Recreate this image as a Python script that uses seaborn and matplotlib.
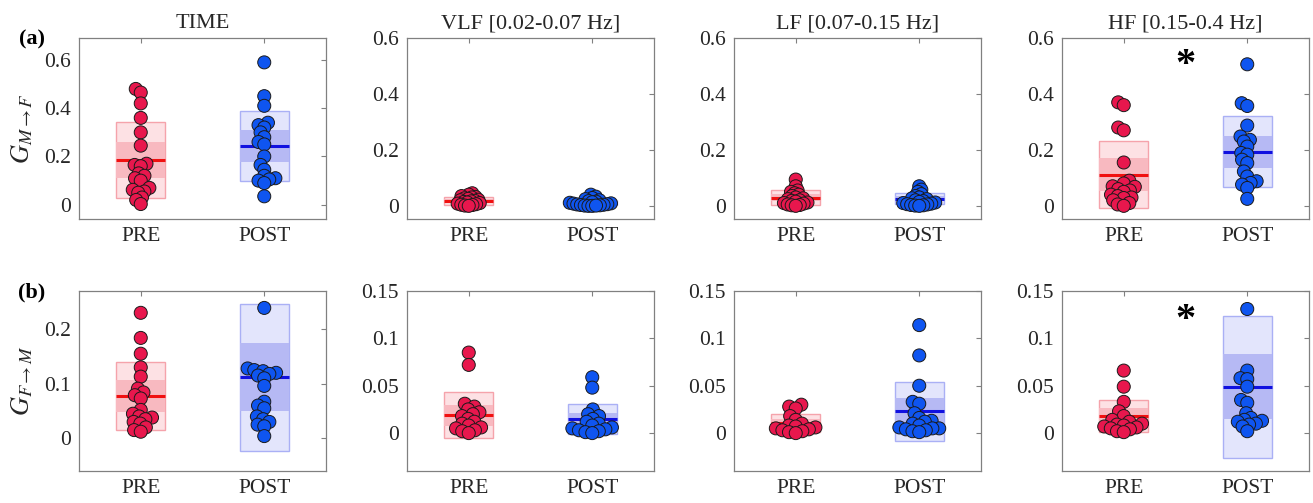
import matplotlib
matplotlib.use('Agg')  # без экрана
import numpy as np
import pandas as pd
import matplotlib.pyplot as plt
from matplotlib.collections import PathCollection
import seaborn as sns

groups = ['PRE', 'POST']
bands = ['TIME', 'VLF [0.02-0.07 Hz]', 'LF [0.07-0.15 Hz]', 'HF [0.15-0.4 Hz]']

# (a) G M->F, individual values
mf_time_pre = [0.48, 0.465, 0.42, 0.36, 0.30, 0.245, 0.17, 0.165, 0.16, 0.13,
               0.12, 0.11, 0.10, 0.07, 0.062, 0.055, 0.05, 0.03, 0.02, 0.003]
mf_time_post = [0.59, 0.45, 0.41, 0.34, 0.33, 0.32, 0.30, 0.28, 0.26, 0.25,
                0.20, 0.165, 0.145, 0.12, 0.11, 0.105, 0.10, 0.09, 0.035]
mf_vlf_pre = [0.045, 0.04, 0.035, 0.032, 0.03, 0.027, 0.025, 0.022, 0.02, 0.018,
              0.016, 0.014, 0.012, 0.01, 0.008, 0.006, 0.004, 0.003, 0.001, 0.0]
mf_vlf_post = [0.04, 0.033, 0.028, 0.024, 0.02, 0.017, 0.015, 0.013, 0.011, 0.009,
               0.008, 0.006, 0.005, 0.004, 0.003, 0.002, 0.001, 0.0, 0.0, 0.001]
mf_lf_pre = [0.094, 0.07, 0.055, 0.05, 0.045, 0.04, 0.035, 0.03, 0.027, 0.024,
             0.02, 0.018, 0.015, 0.012, 0.01, 0.008, 0.005, 0.003, 0.002, 0.0]
mf_lf_post = [0.07, 0.058, 0.05, 0.042, 0.035, 0.03, 0.027, 0.024, 0.02, 0.017,
              0.014, 0.012, 0.01, 0.008, 0.006, 0.005, 0.003, 0.002, 0.001, 0.0]
mf_hf_pre = [0.37, 0.36, 0.28, 0.27, 0.155, 0.09, 0.08, 0.07, 0.068, 0.06,
             0.055, 0.05, 0.04, 0.035, 0.03, 0.028, 0.02, 0.01, 0.005, 0.0]
mf_hf_post = [0.506, 0.367, 0.357, 0.287, 0.248, 0.236, 0.23, 0.212, 0.189, 0.183,
              0.165, 0.153, 0.123, 0.105, 0.088, 0.082, 0.076, 0.064, 0.025]

# (b) G F->M
fm_time_pre = [0.23, 0.184, 0.155, 0.13, 0.113, 0.091, 0.084, 0.079, 0.073, 0.052,
               0.045, 0.04, 0.038, 0.035, 0.03, 0.027, 0.02, 0.015, 0.012]
fm_time_post = [0.239, 0.128, 0.125, 0.123, 0.12, 0.118, 0.115, 0.11, 0.096, 0.067,
                0.06, 0.055, 0.04, 0.035, 0.03, 0.025, 0.022, 0.004]
fm_vlf_pre = [0.085, 0.072, 0.031, 0.028, 0.025, 0.022, 0.02, 0.018, 0.015, 0.012,
              0.01, 0.008, 0.006, 0.005, 0.003, 0.002, 0.0]
fm_vlf_post = [0.059, 0.048, 0.025, 0.02, 0.018, 0.015, 0.012, 0.01, 0.008, 0.006,
               0.005, 0.004, 0.003, 0.002, 0.001, 0.0]
fm_lf_pre = [0.03, 0.028, 0.026, 0.018, 0.014, 0.01, 0.008, 0.007, 0.006, 0.005,
             0.004, 0.003, 0.002, 0.001, 0.0]
fm_lf_post = [0.114, 0.082, 0.05, 0.033, 0.031, 0.021, 0.016, 0.013, 0.012, 0.01,
              0.008, 0.006, 0.005, 0.005, 0.004, 0.003, 0.002, 0.001]
fm_hf_pre = [0.066, 0.049, 0.033, 0.023, 0.018, 0.014, 0.012, 0.01, 0.009, 0.008,
             0.007, 0.006, 0.005, 0.004, 0.002, 0.001]
fm_hf_post = [0.131, 0.066, 0.058, 0.057, 0.049, 0.035, 0.032, 0.021, 0.016, 0.014,
              0.013, 0.012, 0.01, 0.009, 0.007, 0.002]

# mean line, 95% CI half-width and SD per band (TIME, VLF, LF, HF)
mf_pre_mean = [0.186, 0.017, 0.029, 0.112]
mf_pre_ci = [0.075, 0.006, 0.012, 0.058]
mf_pre_sd = [0.156, 0.014, 0.027, 0.120]
mf_post_mean = [0.244, 0.011, 0.026, 0.193]
mf_post_ci = [0.067, 0.004, 0.009, 0.058]
mf_post_sd = [0.145, 0.009, 0.020, 0.127]

fm_pre_mean = [0.078, 0.019, 0.0105, 0.018]
fm_pre_ci = [0.029, 0.011, 0.004, 0.008]
fm_pre_sd = [0.062, 0.024, 0.0095, 0.017]
fm_post_mean = [0.112, 0.015, 0.023, 0.049]
fm_post_ci = [0.062, 0.006, 0.014, 0.034]
fm_post_sd = [0.135, 0.016, 0.031, 0.075]

significant = [False, False, False, True]

# стиль
sns.set_style('white')
plt.rcParams['font.family'] = ['Liberation Serif', 'DejaVu Serif']
plt.rcParams['mathtext.fontset'] = 'stix'

pt_col = ['#E8174D', '#0F55F0']
mean_col = ['#F01010', '#1010E0']
sd_face = ['#FDE1E4', '#E3E5FC']
sd_edge = ['#F5A3AB', '#AAB0F5']
ci_face = ['#F8B9C0', '#B6B9F4']
spine_col = '#808080'
text_col = '#262626'

fig = plt.figure(figsize=(13.13, 5.03), dpi=100)
W, H = 1313, 503
lefts = [79, 407, 734, 1062]
rows = [
    dict(top=38, bottom=219,
         pre=[mf_time_pre, mf_vlf_pre, mf_lf_pre, mf_hf_pre],
         post=[mf_time_post, mf_vlf_post, mf_lf_post, mf_hf_post],
         stats=[(mf_pre_mean, mf_pre_ci, mf_pre_sd), (mf_post_mean, mf_post_ci, mf_post_sd)],
         ylims=[(-0.059, 0.691), (-0.047, 0.6), (-0.047, 0.6), (-0.047, 0.6)],
         yticks=[[0, 0.2, 0.4, 0.6]] * 4,
         swarm_size=[3.6, 1.9, 2.1, 3.6],
         star_y=0.50, tag='(a)', ylabel=r'$G_{M\rightarrow F}$'),
    dict(top=291, bottom=471,
         pre=[fm_time_pre, fm_vlf_pre, fm_lf_pre, fm_hf_pre],
         post=[fm_time_post, fm_vlf_post, fm_lf_post, fm_hf_post],
         stats=[(fm_pre_mean, fm_pre_ci, fm_pre_sd), (fm_post_mean, fm_post_ci, fm_post_sd)],
         ylims=[(-0.06, 0.27), (-0.04, 0.15), (-0.04, 0.15), (-0.04, 0.15)],
         yticks=[[0, 0.1, 0.2]] + [[0, 0.05, 0.1, 0.15]] * 3,
         swarm_size=[4.0, 4.0, 4.0, 4.0],
         star_y=0.119, tag='(b)', ylabel=r'$G_{F\rightarrow M}$'),
]

for r, row in enumerate(rows):
    for j in range(4):
        ax = fig.add_axes([lefts[j] / W, 1 - row['bottom'] / H, 247 / W,
                           (row['bottom'] - row['top']) / H])
        df = pd.DataFrame({
            'group': ['PRE'] * len(row['pre'][j]) + ['POST'] * len(row['post'][j]),
            'value': row['pre'][j] + row['post'][j],
        })
        # small size only for laying out the swarm (points overlap like the original)
        sns.swarmplot(data=df, x='group', y='value', hue='group', order=groups,
                      hue_order=groups, palette=pt_col, size=row['swarm_size'][j],
                      edgecolor='#1a1a1a', linewidth=0.7, legend=False, ax=ax,
                      zorder=4)

        for i, (means, cis, sds) in enumerate(row['stats']):
            m, c, s = means[j], cis[j], sds[j]
            ax.bar(i, 2 * s, bottom=m - s, width=0.4, color=sd_face[i],
                   edgecolor=sd_edge[i], linewidth=1.0, zorder=1)
            ax.bar(i, 2 * c, bottom=m - c, width=0.4, color=ci_face[i],
                   linewidth=0, zorder=2)
            ax.hlines(m, i - 0.2, i + 0.2, color=mean_col[i], lw=2.2, zorder=3)

        ax.set_xlim(-0.5, 1.5)
        ax.set_ylim(*row['ylims'][j])
        ax.set_yticks(row['yticks'][j])
        ax.set_yticklabels([f'{t:g}' for t in row['yticks'][j]])
        ax.set_xticks([0, 1])
        ax.set_xticklabels(groups)
        ax.set_xlabel('')
        ax.set_ylabel('')
        ax.tick_params(direction='in', length=3.5, width=0.8, color=spine_col,
                       top=True, right=True, labelsize=15.5, labelcolor=text_col,
                       pad=6)
        for sp in ax.spines.values():
            sp.set_visible(True)
            sp.set_color(spine_col)
            sp.set_linewidth(0.9)
        if r == 0:
            ax.set_title(bands[j], fontsize=16, color=text_col, pad=7)
        if significant[j]:
            ax.text(0.5, row['star_y'], '*', ha='center', va='center',
                    fontsize=29, fontweight='bold', color='black', zorder=5)

    mid = 1 - (row['top'] + row['bottom']) / 2 / H
    fig.text(22 / W, mid, row['ylabel'], rotation=90, ha='center', va='center',
             fontsize=19, color=text_col)
    fig.text(32 / W, 1 - (row['top'] + 1) / H, row['tag'], ha='center', va='center',
             fontsize=16, fontweight='bold', color='black')

# раскладываем рой маленькими кружками, потом увеличиваем маркеры
fig.canvas.draw()
for ax in fig.axes:
    for coll in ax.collections:
        if isinstance(coll, PathCollection):
            if 'draw' in coll.__dict__:
                del coll.draw
            coll.set_sizes([88])

fig.savefig('out.png', dpi=100)
